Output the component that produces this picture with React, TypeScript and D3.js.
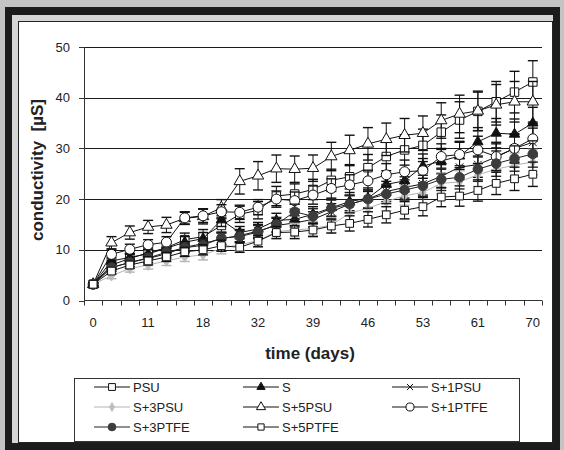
import React, { useEffect, useRef } from 'react';
import * as d3 from 'd3';

// categories (days) - only every 3rd one gets a label
const days = ['0', '4', '7', '11', '14', '16', '18', '21', '25', '32', '35', '37', '39', '42', '44', '46', '49', '51', '53', '56', '58', '61', '63', '65', '70'];
const yTicks = [0, 10, 20, 30, 40, 50];

const psu = [3.2, 7.0, 8.3, 9.4, 10.4, 12.0, 12.6, 14.8, 17.0, 17.8, 20.6, 21.0, 21.9, 23.7, 24.4, 26.2, 28.4, 29.7, 30.6, 33.2, 35.6, 37.3, 39.2, 41.1, 43.1];
const psuErr = [0.3, 0.8, 1.0, 1.0, 1.2, 1.3, 1.4, 1.5, 1.6, 1.7, 1.9, 2.0, 2.0, 2.2, 2.4, 2.6, 2.8, 3.0, 3.2, 3.4, 3.6, 3.8, 4.0, 4.1, 4.2];
const s = [3.2, 7.8, 8.5, 9.2, 10.3, 11.5, 12.2, 15.9, 13.4, 14.1, 15.8, 16.0, 17.0, 18.3, 19.5, 20.2, 22.9, 23.6, 26.5, 27.5, 28.5, 31.3, 33.0, 32.8, 35.0];
const sErr = [0.3, 0.7, 0.8, 0.9, 1.0, 1.1, 1.2, 1.3, 1.2, 1.3, 1.4, 1.5, 1.5, 1.7, 1.8, 2.0, 2.1, 2.2, 2.4, 2.5, 2.7, 2.8, 2.9, 3.0, 3.1];
const s1psu = [3.2, 6.5, 7.5, 8.3, 9.2, 10.5, 11.2, 12.2, 12.8, 13.7, 14.8, 15.3, 16.0, 17.5, 19.0, 20.0, 21.5, 22.3, 23.0, 24.5, 26.3, 26.8, 28.3, 30.0, 31.2];
const s1psuErr = [0.3, 0.7, 0.8, 0.9, 1.0, 1.0, 1.1, 1.2, 1.2, 1.3, 1.4, 1.4, 1.5, 1.6, 1.7, 1.8, 2.0, 2.1, 2.2, 2.3, 2.4, 2.5, 2.6, 2.7, 2.8];
const s3psu = [3.2, 4.9, 6.3, 7.0, 7.8, 8.6, 9.0, 10.3, 11.0, 11.8, 13.6, 13.9, 14.2, 14.9, 17.2, 18.2, 19.5, 20.7, 21.3, 23.1, 23.4, 24.8, 25.9, 26.7, 27.3];
const s3psuErr = [0.3, 0.6, 0.7, 0.8, 0.9, 0.9, 1.0, 1.1, 1.1, 1.2, 1.3, 1.3, 1.4, 1.5, 1.6, 1.7, 1.8, 1.9, 2.0, 2.1, 2.2, 2.3, 2.4, 2.4, 2.5];
const s5psu = [3.2, 11.4, 13.4, 14.5, 14.9, 16.2, 16.6, 18.3, 23.5, 24.6, 26.0, 25.9, 26.1, 28.4, 29.6, 30.9, 31.8, 32.6, 33.0, 35.5, 36.8, 37.4, 38.6, 39.2, 39.2];
const s5psuErr = [0.3, 1.2, 1.3, 1.3, 1.5, 1.2, 1.5, 1.6, 2.5, 2.8, 2.7, 2.6, 2.6, 2.8, 3.0, 3.2, 3.2, 3.3, 3.4, 3.5, 3.7, 3.9, 4.0, 4.0, 4.0];
const s1ptfe = [3.2, 9.1, 10.1, 11.0, 11.5, 16.3, 16.7, 17.5, 17.4, 18.4, 20.0, 19.7, 20.8, 22.1, 22.8, 23.6, 24.8, 25.4, 25.6, 28.4, 28.8, 29.7, 28.4, 30.0, 31.9];
const s1ptfeErr = [0.3, 0.9, 1.0, 1.0, 1.1, 1.2, 1.3, 1.4, 1.4, 1.5, 1.6, 1.7, 1.8, 1.9, 2.0, 2.1, 2.2, 2.3, 2.4, 2.5, 2.6, 2.7, 2.8, 2.9, 3.0];
const s3ptfe = [3.2, 6.5, 7.5, 8.4, 9.5, 10.4, 10.9, 12.3, 12.6, 13.5, 15.0, 17.5, 16.6, 18.2, 19.0, 20.0, 21.0, 21.8, 22.6, 23.9, 24.3, 25.9, 27.0, 28.0, 28.9];
const s3ptfeErr = [0.3, 0.7, 0.8, 0.9, 1.0, 1.0, 1.1, 1.2, 1.2, 1.3, 1.4, 1.5, 1.5, 1.6, 1.7, 1.8, 1.9, 2.0, 2.1, 2.2, 2.3, 2.4, 2.5, 2.5, 2.6];
const s5ptfe = [3.2, 5.8, 7.0, 7.8, 8.6, 9.6, 10.0, 10.8, 10.5, 11.7, 13.4, 13.5, 13.9, 14.7, 15.2, 16.0, 16.9, 17.8, 18.5, 20.4, 20.6, 21.7, 23.1, 24.0, 24.9];
const s5ptfeErr = [0.3, 0.6, 0.7, 0.8, 0.9, 0.9, 1.0, 1.1, 1.0, 1.1, 1.2, 1.3, 1.3, 1.4, 1.5, 1.5, 1.6, 1.7, 1.8, 1.9, 2.0, 2.1, 2.2, 2.3, 2.4];

const FONT = '"Liberation Sans", Arial, sans-serif';

const series = [
  { name: 'PSU', values: psu, err: psuErr, sym: d3.symbolSquare, size: 72, fill: '#fff', stroke: '#111', line: '#111' },
  { name: 'S', values: s, err: sErr, sym: d3.symbolTriangle, size: 46, fill: '#111', stroke: '#111', line: '#111' },
  { name: 'S+1PSU', values: s1psu, err: s1psuErr, sym: d3.symbolX, size: 40, fill: 'none', stroke: '#111', line: '#111' },
  { name: 'S+3PSU', values: s3psu, err: s3psuErr, sym: d3.symbolDiamond, size: 34, fill: '#bdbdbd', stroke: '#bdbdbd', line: '#b3b3b3' },
  { name: 'S+5PSU', values: s5psu, err: s5psuErr, sym: d3.symbolTriangle, size: 56, fill: '#fff', stroke: '#111', line: '#111' },
  { name: 'S+1PTFE', values: s1ptfe, err: s1ptfeErr, sym: d3.symbolCircle, size: 78, fill: '#fff', stroke: '#111', line: '#111' },
  { name: 'S+3PTFE', values: s3ptfe, err: s3ptfeErr, sym: d3.symbolCircle, size: 72, fill: '#3c3c3c', stroke: '#3c3c3c', line: '#222' },
  { name: 'S+5PTFE', values: s5ptfe, err: s5ptfeErr, sym: d3.symbolSquare, size: 60, fill: '#fff', stroke: '#111', line: '#111' },
];

export default function App() {
  const ref = useRef<SVGSVGElement>(null);

  useEffect(() => {
    const svg = d3.select(ref.current);
    svg.selectAll('*').remove();
    const width = 564;
    const height = 450;

    // frame
    svg.append('rect').attr('width', width).attr('height', height).attr('fill', '#c4c4c4');
    svg.append('rect').attr('x', 5).attr('y', 7).attr('width', 555).attr('height', 443).attr('fill', '#1c1c1c');
    svg.append('rect').attr('x', 12).attr('y', 15).attr('width', 541).attr('height', 428).attr('fill', '#d6d6d6');
    svg.append('rect').attr('x', 18.5).attr('y', 21.5).attr('width', 534).attr('height', 421)
      .attr('fill', '#fff').attr('stroke', '#222').attr('stroke-width', 1);

    const x = d3.scaleBand().domain(days).range([84, 542]).padding(0);
    const y = d3.scaleLinear().domain([0, 50]).range([300.5, 47]);
    const cx = (i: number) => (x(days[i]) as number) + x.bandwidth() / 2;

    // grid lines
    svg.append('g').selectAll('line').data(yTicks.filter(d => d > 0)).enter().append('line')
      .attr('x1', 84).attr('x2', 542)
      .attr('y1', d => Math.round(y(d)) + 0.5).attr('y2', d => Math.round(y(d)) + 0.5)
      .attr('stroke', '#1a1a1a').attr('stroke-width', 1);

    // y axis
    const ya = svg.append('g');
    ya.append('line').attr('x1', 84.5).attr('x2', 84.5).attr('y1', y(50)).attr('y2', y(0)).attr('stroke', '#333');
    ya.selectAll('line.t').data(yTicks).enter().append('line').attr('class', 't')
      .attr('x1', 79).attr('x2', 84)
      .attr('y1', d => Math.round(y(d)) + 0.5).attr('y2', d => Math.round(y(d)) + 0.5)
      .attr('stroke', '#333');
    ya.selectAll('text').data(yTicks).enter().append('text')
      .attr('x', 70).attr('y', d => y(d) + 4.5)
      .attr('text-anchor', 'end').attr('font-family', FONT).attr('font-size', 13).attr('fill', '#222')
      .text(d => d);

    // x axis
    const xa = svg.append('g');
    xa.append('line').attr('x1', 84).attr('x2', 542).attr('y1', 300.5).attr('y2', 300.5).attr('stroke', '#333');
    const bounds = days.map(d => x(d) as number).concat([542]);
    xa.selectAll('line.t').data(bounds).enter().append('line').attr('class', 't')
      .attr('x1', d => Math.round(d) + 0.5).attr('x2', d => Math.round(d) + 0.5)
      .attr('y1', 300.5).attr('y2', 305.5).attr('stroke', '#333');
    xa.selectAll('text').data(days.filter((d, i) => i % 3 === 0)).enter().append('text')
      .attr('x', d => (x(d) as number) + x.bandwidth() / 2).attr('y', 327)
      .attr('text-anchor', 'middle').attr('font-family', FONT).attr('font-size', 13).attr('fill', '#222')
      .text(d => d);

    // titles
    svg.append('text').attr('transform', 'translate(43,170) rotate(-90)')
      .attr('text-anchor', 'middle').attr('font-family', FONT).attr('font-size', 17).attr('font-weight', 'bold')
      .attr('fill', '#222').attr('xml:space', 'preserve').text('conductivity  [µS]');
    svg.append('text').attr('x', 310).attr('y', 359)
      .attr('text-anchor', 'middle').attr('font-family', FONT).attr('font-size', 17).attr('font-weight', 'bold')
      .attr('fill', '#222').text('time (days)');

    // series
    const line = d3.line<number>().x((d, i) => cx(i)).y(d => y(d));
    series.forEach(sr => {
      const g = svg.append('g');
      g.append('path').attr('d', line(sr.values)).attr('fill', 'none').attr('stroke', sr.line).attr('stroke-width', 1);
      // error bars
      sr.values.forEach((v, i) => {
        const e = sr.err[i];
        const xx = cx(i);
        g.append('line').attr('x1', xx).attr('x2', xx).attr('y1', y(v - e)).attr('y2', y(v + e))
          .attr('stroke', sr.line).attr('stroke-width', 1);
        [v - e, v + e].forEach(w => {
          g.append('line').attr('x1', xx - 5).attr('x2', xx + 5).attr('y1', y(w)).attr('y2', y(w))
            .attr('stroke', sr.line).attr('stroke-width', 1.4);
        });
      });
      g.selectAll('path.m').data(sr.values).enter().append('path').attr('class', 'm')
        .attr('d', d3.symbol().type(sr.sym).size(sr.size)())
        .attr('transform', (d, i) => `translate(${cx(i)},${y(d)})`)
        .attr('fill', sr.fill).attr('stroke', sr.stroke).attr('stroke-width', 1);
    });

    // legend
    const lg = svg.append('g');
    lg.append('rect').attr('x', 74.5).attr('y', 378.5).attr('width', 445).attr('height', 63)
      .attr('fill', '#fff').attr('stroke', '#333');
    const colX = [94, 243, 392];
    const rowY = [387, 407, 427];
    series.forEach((sr, i) => {
      const lx = colX[i % 3];
      const ly = rowY[Math.floor(i / 3)];
      lg.append('line').attr('x1', lx).attr('x2', lx + 36).attr('y1', ly).attr('y2', ly)
        .attr('stroke', sr.line).attr('stroke-width', 1);
      lg.append('path').attr('d', d3.symbol().type(sr.sym).size(sr.size * 0.65)())
        .attr('transform', `translate(${lx + 18},${ly})`)
        .attr('fill', sr.fill).attr('stroke', sr.stroke);
      lg.append('text').attr('x', lx + 39).attr('y', ly + 4.5)
        .attr('font-family', FONT).attr('font-size', 13).attr('fill', '#222').text(sr.name);
    });
  }, []);

  return (
    <svg ref={ref} width={564} height={450} style={{ position: 'absolute', left: 0, top: 0 }} />
  );
}
